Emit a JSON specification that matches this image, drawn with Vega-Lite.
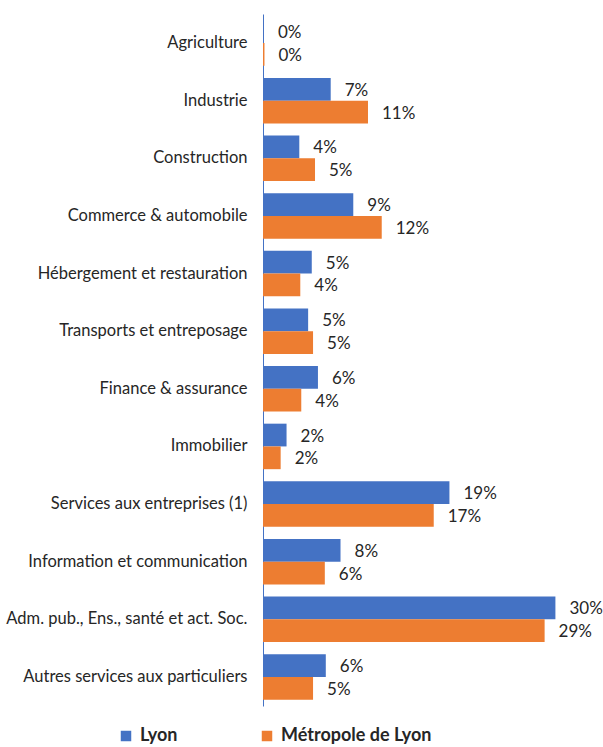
{
  "$schema": "https://vega.github.io/schema/vega-lite/v6.json",
  "width": 314,
  "height": 692,
  "autosize": {"type": "none"},
  "padding": {"left": 263, "top": 14, "right": 26, "bottom": 41},
  "background": "white",
  "config": {
    "view": {"stroke": null},
    "font": "Lato",
    "text": {"font": "Lato"}
  },
  "data": {
    "values": [
      {"cat": "Agriculture", "serie": "Lyon", "value": 0.001},
      {"cat": "Agriculture", "serie": "Métropole de Lyon", "value": 0.0015},
      {"cat": "Industrie", "serie": "Lyon", "value": 0.069},
      {"cat": "Industrie", "serie": "Métropole de Lyon", "value": 0.107},
      {"cat": "Construction", "serie": "Lyon", "value": 0.037},
      {"cat": "Construction", "serie": "Métropole de Lyon", "value": 0.053},
      {"cat": "Commerce & automobile", "serie": "Lyon", "value": 0.092},
      {"cat": "Commerce & automobile", "serie": "Métropole de Lyon", "value": 0.121},
      {"cat": "Hébergement et restauration", "serie": "Lyon", "value": 0.0497},
      {"cat": "Hébergement et restauration", "serie": "Métropole de Lyon", "value": 0.038},
      {"cat": "Transports et entreposage", "serie": "Lyon", "value": 0.046},
      {"cat": "Transports et entreposage", "serie": "Métropole de Lyon", "value": 0.051},
      {"cat": "Finance & assurance", "serie": "Lyon", "value": 0.056},
      {"cat": "Finance & assurance", "serie": "Métropole de Lyon", "value": 0.039},
      {"cat": "Immobilier", "serie": "Lyon", "value": 0.024},
      {"cat": "Immobilier", "serie": "Métropole de Lyon", "value": 0.018},
      {"cat": "Services aux entreprises (1)", "serie": "Lyon", "value": 0.19},
      {"cat": "Services aux entreprises (1)", "serie": "Métropole de Lyon", "value": 0.174},
      {"cat": "Information et communication", "serie": "Lyon", "value": 0.079},
      {"cat": "Information et communication", "serie": "Métropole de Lyon", "value": 0.063},
      {"cat": "Adm. pub., Ens., santé et act. Soc.", "serie": "Lyon", "value": 0.298},
      {"cat": "Adm. pub., Ens., santé et act. Soc.", "serie": "Métropole de Lyon", "value": 0.287},
      {"cat": "Autres services aux particuliers", "serie": "Lyon", "value": 0.064},
      {"cat": "Autres services aux particuliers", "serie": "Métropole de Lyon", "value": 0.051}
    ]
  },
  "encoding": {
    "y": {
      "field": "cat",
      "type": "nominal",
      "sort": null,
      "scale": {"paddingInner": 0.21, "paddingOuter": 0.11},
      "axis": {
        "title": null,
        "ticks": false,
        "labelPadding": 16,
        "labelFont": "Lato",
        "labelFontSize": 16.5,
        "labelColor": "#262626",
        "labelLimit": 300,
        "domainColor": "#4472C4",
        "domainWidth": 1
      }
    },
    "yOffset": {"field": "serie", "type": "nominal", "sort": ["Lyon", "Métropole de Lyon"], "scale": {"paddingInner": 0, "paddingOuter": 0}},
    "x": {
      "field": "value",
      "type": "quantitative",
      "scale": {"domain": [0, 0.32], "nice": false, "zero": true},
      "axis": null
    }
  },
  "layer": [
    {
      "mark": {"type": "bar"},
      "encoding": {
        "color": {
          "field": "serie",
          "type": "nominal",
          "sort": ["Lyon", "Métropole de Lyon"],
          "scale": {"domain": ["Lyon", "Métropole de Lyon"], "range": ["#4472C4", "#ED7D31"]},
          "legend": {
            "title": null,
            "orient": "none",
            "direction": "horizontal",
            "legendX": -146,
            "legendY": 713,
            "symbolType": "square",
            "symbolSize": 110,
            "symbolStrokeWidth": 0,
            "labelFont": "Lato",
            "labelFontWeight": "bold",
            "labelFontSize": 18,
            "labelColor": "#262626",
            "labelOffset": 5,
            "columnPadding": 80,
            "labelLimit": 300
          }
        }
      }
    },
    {
      "mark": {"type": "text", "align": "left", "baseline": "middle", "dx": 14, "dy": 1.5, "font": "Lato", "fontSize": 17, "color": "#262626"},
      "encoding": {
        "text": {"field": "value", "type": "quantitative", "format": ".0%"}
      }
    }
  ]
}
